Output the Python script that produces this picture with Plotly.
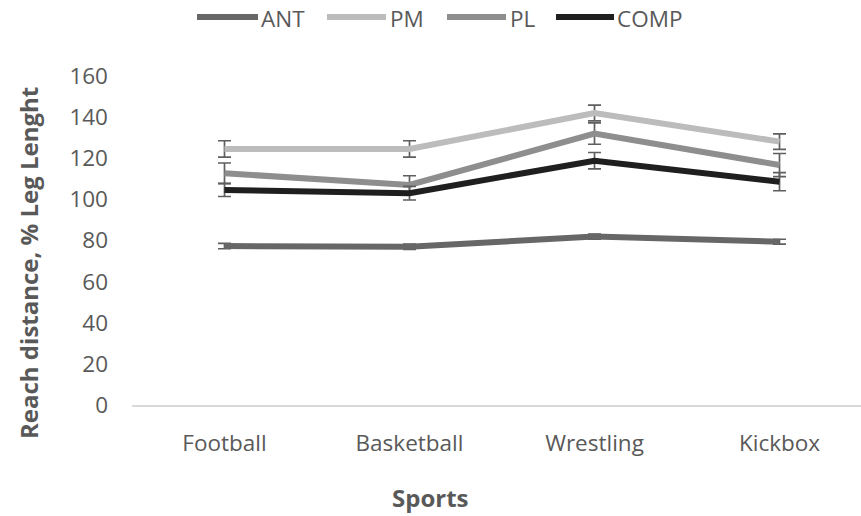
import plotly.graph_objects as go

# Star Excursion reach distances by sport (% of leg length), mean ± SD
sports = ["Football", "Basketball", "Wrestling", "Kickbox"]
series_names = ["ANT", "PM", "PL", "COMP"]

ant = [77.3, 77.0, 81.9, 79.4]
pm = [124.5, 124.5, 142.0, 128.1]
pl = [112.7, 107.0, 132.0, 116.7]
comp = [104.6, 103.0, 118.8, 108.6]

ant_err = [1.3, 1.3, 1.2, 1.2]
pm_err = [4.0, 4.0, 3.8, 3.8]
pl_err = [5.0, 4.5, 5.2, 5.6]
comp_err = [3.2, 3.3, 4.0, 4.4]

y_ticks = [0, 20, 40, 60, 80, 100, 120, 140, 160]

values = [ant, pm, pl, comp]
errors = [ant_err, pm_err, pl_err, comp_err]
colors = ["#676767", "#bcbcbc", "#8e8e8e", "#1f1f1f"]

W, H = 861, 516
L, R, T, B = 132, 0, 76, 111
PW, PH = W - L - R, H - T - B

FONT = "Open Sans"
TXT = "#595959"
TICK_SIZE = 22.5
TITLE_SIZE = 24


def px_x(x):
    return (x - L) / PW


def px_y(y):
    return (H - B - y) / PH


fig = go.Figure()
for name, vals, errs, col in zip(series_names, values, errors, colors):
    fig.add_trace(go.Scatter(
        x=list(range(len(sports))), y=vals, name=name, mode="lines",
        line=dict(color=col, width=6),
        error_y=dict(type="data", array=errs, visible=True,
                     color="#5f5f5f", thickness=1.7, width=6.5),
        showlegend=False,
    ))

# legend drawn as line samples with labels across the top
legend_items = [(197, 258, 259), (327, 386, 388), (447, 506, 508), (556, 614, 615)]
shapes = []
annotations = []
for (x0, x1, tx), name, col in zip(legend_items, series_names, colors):
    shapes.append(dict(type="line", xref="paper", yref="paper",
                       x0=px_x(x0), x1=px_x(x1), y0=px_y(17), y1=px_y(17),
                       line=dict(color=col, width=6)))
    annotations.append(dict(text=name, xref="paper", yref="paper",
                            x=px_x(tx), y=px_y(18), xanchor="left", yanchor="middle",
                            showarrow=False, font=dict(family=FONT, size=TICK_SIZE, color=TXT)))

annotations.append(dict(text="<b>Sports</b>", xref="paper", yref="paper",
                        x=px_x(430), y=px_y(497), xanchor="center", yanchor="middle",
                        showarrow=False, font=dict(family=FONT, size=TITLE_SIZE, color=TXT)))
annotations.append(dict(text="<b>Reach distance, % Leg Lenght</b>", xref="paper", yref="paper",
                        x=px_x(28), y=px_y(263), xanchor="center", yanchor="middle",
                        textangle=-90, showarrow=False,
                        font=dict(family=FONT, size=TITLE_SIZE, color=TXT)))

spacing = 185.0
right_edge = (W - R - (L + spacing / 2)) / spacing

fig.update_layout(
    width=W, height=H,
    margin=dict(l=L, r=R, t=T, b=B),
    plot_bgcolor="white", paper_bgcolor="white",
    font=dict(family=FONT, color=TXT),
    shapes=shapes, annotations=annotations,
    xaxis=dict(
        tickmode="array", tickvals=list(range(len(sports))), ticktext=sports,
        range=[-0.5, right_edge], showgrid=False, zeroline=False,
        showline=True, linecolor="#d9d9d9", linewidth=1.5,
        ticks="", ticklabelstandoff=17,
        tickfont=dict(family=FONT, size=TICK_SIZE, color=TXT),
    ),
    yaxis=dict(
        range=[0, 160], tickmode="array", tickvals=y_ticks,
        showgrid=False, zeroline=False, showline=False,
        ticks="", ticklabelstandoff=23,
        tickfont=dict(family=FONT, size=TICK_SIZE, color=TXT),
    ),
)

fig.write_html("out.html")
